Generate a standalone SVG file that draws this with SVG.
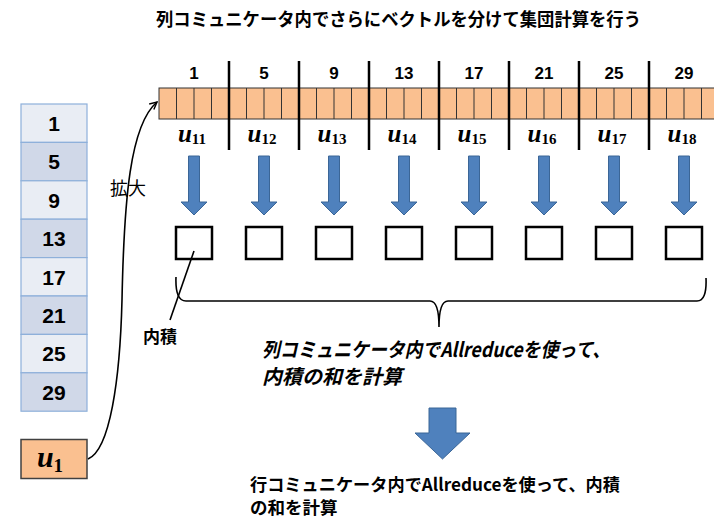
<svg xmlns="http://www.w3.org/2000/svg" width="714" height="519" viewBox="0 0 714 519">
<defs>
<style>
.jp{font-family:"Noto Sans CJK JP","Noto Sans",sans-serif;fill:#000}
.b{font-weight:bold}
.num{font-family:"Liberation Sans",Arial,sans-serif;font-weight:bold;fill:#000;text-anchor:middle}
.u{font-family:"Liberation Serif","Times New Roman",serif;font-weight:bold;fill:#000;text-anchor:middle}
.ui{font-style:italic}
.col1{fill:#E9EDF4;stroke:#8EB0DA;stroke-width:1.2}
.col2{fill:#D0D8E8;stroke:#8EB0DA;stroke-width:1.2}
.cell{fill:#FAC090;stroke:#333;stroke-width:1}
.sep{stroke:#000;stroke-width:2.5}
.sq{fill:#fff;stroke:#000;stroke-width:2.5}
.barr{fill:#4F81BD;stroke:#3B6697;stroke-width:1}
.ln{fill:none;stroke:#000;stroke-width:1.6}
</style>
<marker id="open" viewBox="0 0 10 10" refX="9" refY="5" markerWidth="9" markerHeight="9" markerUnits="userSpaceOnUse" orient="auto">
<path d="M1,1 L9,5 L1,9" fill="none" stroke="#000" stroke-width="1.6"/>
</marker>
<g id="darr"><path class="barr" d="M-5.5,0 H5.5 V46 H13 L0,59 L-13,46 H-5.5 Z"/></g>
</defs>

<text class="jp b" x="156" y="26" font-size="18" textLength="485" lengthAdjust="spacingAndGlyphs">列コミュニケータ内でさらにベクトルを分けて集団計算を行う</text>

<g id="column">
<rect class="col1" x="21" y="104" width="66" height="38.4"/>
<rect class="col2" x="21" y="142.4" width="66" height="38.4"/>
<rect class="col1" x="21" y="180.8" width="66" height="38.4"/>
<rect class="col2" x="21" y="219.2" width="66" height="38.4"/>
<rect class="col1" x="21" y="257.6" width="66" height="38.4"/>
<rect class="col2" x="21" y="296" width="66" height="38.4"/>
<rect class="col1" x="21" y="334.4" width="66" height="38.4"/>
<rect class="col2" x="21" y="372.8" width="66" height="38.4"/>
<g font-size="21">
<text class="num" x="54" y="131">1</text>
<text class="num" x="54" y="169.4">5</text>
<text class="num" x="54" y="207.8">9</text>
<text class="num" x="54" y="246.2">13</text>
<text class="num" x="54" y="284.6">17</text>
<text class="num" x="54" y="323">21</text>
<text class="num" x="54" y="361.4">25</text>
<text class="num" x="54" y="399.8">29</text>
</g>
</g>

<g id="u1">
<rect x="21" y="439.5" width="66" height="39" fill="#FAC090" stroke="#404040" stroke-width="1.5"/>
<text class="u" x="50" y="467" font-size="30"><tspan class="ui">u</tspan><tspan font-size="19" dy="5">1</tspan></text>
</g>

<g id="bar">
<rect x="159" y="88" width="562" height="31" class="cell"/>
<path stroke="#333" stroke-width="1" d="M176.5,88V119M194,88V119M211.5,88V119M246.5,88V119M264,88V119M281.5,88V119M316.5,88V119M334,88V119M351.5,88V119M386.5,88V119M404,88V119M421.5,88V119M456.5,88V119M474,88V119M491.5,88V119M526.5,88V119M544,88V119M561.5,88V119M596.5,88V119M614,88V119M631.5,88V119M666.5,88V119M684,88V119M701.5,88V119"/>
<path class="sep" d="M229,61V150M299,61V150M369,61V150M439,61V150M509,61V150M579,61V150M649,61V150"/>
<g font-size="17">
<text class="num" x="194" y="79">1</text>
<text class="num" x="264" y="79">5</text>
<text class="num" x="334" y="79">9</text>
<text class="num" x="404" y="79">13</text>
<text class="num" x="474" y="79">17</text>
<text class="num" x="544" y="79">21</text>
<text class="num" x="614" y="79">25</text>
<text class="num" x="684" y="79">29</text>
</g>
<g font-size="25">
<text class="u" x="192" y="142"><tspan class="ui">u</tspan><tspan font-size="15" dy="2">11</tspan></text>
<text class="u" x="262" y="142"><tspan class="ui">u</tspan><tspan font-size="15" dy="2">12</tspan></text>
<text class="u" x="332" y="142"><tspan class="ui">u</tspan><tspan font-size="15" dy="2">13</tspan></text>
<text class="u" x="402" y="142"><tspan class="ui">u</tspan><tspan font-size="15" dy="2">14</tspan></text>
<text class="u" x="472" y="142"><tspan class="ui">u</tspan><tspan font-size="15" dy="2">15</tspan></text>
<text class="u" x="542" y="142"><tspan class="ui">u</tspan><tspan font-size="15" dy="2">16</tspan></text>
<text class="u" x="612" y="142"><tspan class="ui">u</tspan><tspan font-size="15" dy="2">17</tspan></text>
<text class="u" x="682" y="142"><tspan class="ui">u</tspan><tspan font-size="15" dy="2">18</tspan></text>
</g>
</g>

<g id="arrows">
<use href="#darr" x="194" y="156"/>
<use href="#darr" x="264" y="156"/>
<use href="#darr" x="334" y="156"/>
<use href="#darr" x="404" y="156"/>
<use href="#darr" x="474" y="156"/>
<use href="#darr" x="544" y="156"/>
<use href="#darr" x="614" y="156"/>
<use href="#darr" x="684" y="156"/>
</g>

<g id="products">
<rect class="sq" x="176" y="227" width="36" height="32"/>
<rect class="sq" x="246" y="227" width="36" height="32"/>
<rect class="sq" x="316" y="227" width="36" height="32"/>
<rect class="sq" x="386" y="227" width="36" height="32"/>
<rect class="sq" x="456" y="227" width="36" height="32"/>
<rect class="sq" x="526" y="227" width="36" height="32"/>
<rect class="sq" x="596" y="227" width="36" height="32"/>
<rect class="sq" x="666" y="227" width="36" height="32"/>
</g>

<g id="connectors">
<path class="ln" d="M88,459 C110,450 120,380 122,300 C124,200 130,125 157,102" marker-end="url(#open)"/>
<path class="ln" d="M194,251 L170,320"/>
<path class="ln" stroke-width="2" d="M176,277 Q175,301 186,301 L430,301 Q439,301 439,327 Q439,301 448,301 L697,301 Q707,301 706,278"/>
</g>

<text class="jp" x="110" y="195" font-size="18">拡大</text>
<text class="jp b" x="143" y="343" font-size="17">内積</text>

<g id="note1">
<text class="jp b" x="262" y="357" font-size="20" font-style="italic" textLength="348" lengthAdjust="spacingAndGlyphs">列コミュニケータ内でAllreduceを使って、</text>
<text class="jp b" x="262" y="384" font-size="20" font-style="italic">内積の和を計算</text>
</g>

<path id="bigarrow" class="barr" d="M429,408 H456 V433 H470 L442.5,459 L415,433 H429 Z"/>

<g id="note2">
<text class="jp b" x="250" y="491" font-size="17.5" textLength="370" lengthAdjust="spacingAndGlyphs">行コミュニケータ内でAllreduceを使って、内積</text>
<text class="jp b" x="250" y="514" font-size="17.5">の和を計算</text>
</g>
</svg>
